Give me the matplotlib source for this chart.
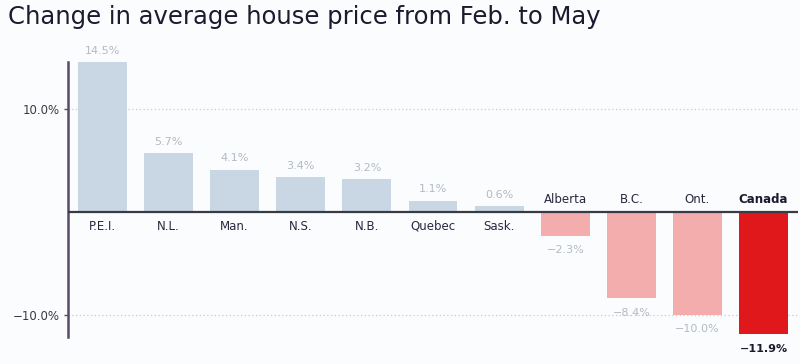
import matplotlib.pyplot as plt

# ================================================================
# data
# ================================================================
regions = ['P.E.I.', 'N.L.', 'Man.', 'N.S.', 'N.B.', 'Quebec', 'Sask.',
           'Alberta', 'B.C.', 'Ont.', 'Canada']
changes = [14.5, 5.7, 4.1, 3.4, 3.2, 1.1, 0.6, -2.3, -8.4, -10.0, -11.9]
yticks = [-10, 10]
ytick_labels = ['-10.0%', '10.0%']

bg = '#fafcfe'
fig = plt.figure(figsize=(8, 3.64), dpi=100, facecolor=bg)
ax = fig.add_axes([0.085, 0.074, 0.9125, 0.756], facecolor=bg)

colors = []
for name, v in zip(regions, changes):
    if name == 'Canada':
        colors.append('#e0181b')
    elif v >= 0:
        colors.append('#c9d6e3')
    else:
        colors.append('#f4adad')

x = range(len(regions))
ax.bar(x, changes, width=0.74, color=colors, zorder=2)

ax.set_xlim(-0.52, len(regions) - 0.48)
ax.set_ylim(-12.15, 14.56)

for xi, name, v in zip(x, regions, changes):
    bold = name == 'Canada'
    lab_col = '#1c1a2e' if bold else '#2a2840'
    val_col = '#1c1a2e' if bold else '#b4bac2'
    w = 'bold' if bold else 'normal'
    if v >= 0:
        ax.text(xi, -0.75, name, ha='center', va='top', fontsize=8.5,
                color=lab_col, fontweight=w)
        ax.text(xi, v + 0.6, f'{v:.1f}%', ha='center', va='bottom',
                fontsize=8, color=val_col, fontweight=w)
    else:
        ax.text(xi, 0.6, name, ha='center', va='bottom', fontsize=8.5,
                color=lab_col, fontweight=w)
        ax.text(xi, v - 0.9, f'{v:.1f}%'.replace('-', '\u2212'), ha='center',
                va='top', fontsize=8, color=val_col, fontweight=w)

ax.axhline(0, color='#3a3a44', lw=1.6, zorder=3)
for t in yticks:
    ax.axhline(t, color='#c8ccd2', lw=0.9, ls=(0, (1, 2)), zorder=1)

ax.set_yticks(yticks)
ax.set_yticklabels([l.replace('-', '\u2212') for l in ytick_labels],
                   fontsize=8.5, color='#3a3a44')
ax.tick_params(axis='y', length=3, width=1, color='#5a4a6a', pad=3)
ax.set_xticks([])

for s in ['top', 'right', 'bottom']:
    ax.spines[s].set_visible(False)
ax.spines['left'].set_color('#5a4a6a')
ax.spines['left'].set_linewidth(1.8)

fig.text(0.01, 0.952, 'Change in average house price from Feb. to May',
         fontsize=17.5, color='#1c1a2e', va='center', ha='left')

plt.savefig('out.png', dpi=100, facecolor=bg)
